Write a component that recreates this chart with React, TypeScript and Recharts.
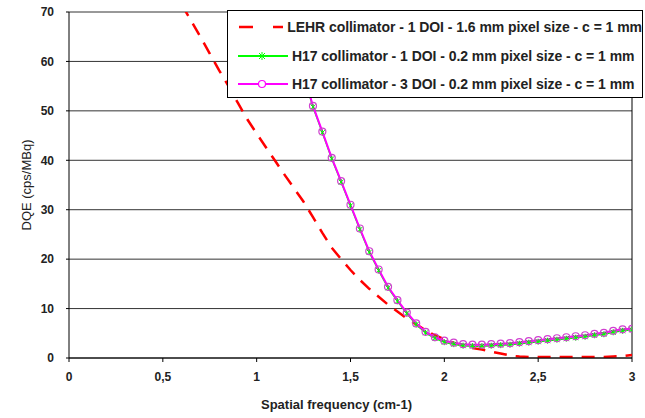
import React from 'react';
import { LineChart, Line, XAxis, YAxis, CartesianGrid, ReferenceLine } from 'recharts';

// LEHR collimator curve
const lehrFreq = [
  0.6, 0.65, 0.7, 0.75, 0.8, 0.85, 0.9, 0.95, 1.0, 1.05, 1.1, 1.15, 1.2, 1.25, 1.3, 1.35, 1.4, 1.45,
  1.5, 1.55, 1.6, 1.65, 1.7, 1.75, 1.8, 1.85, 1.9, 1.95, 2.0, 2.05, 2.1, 2.15, 2.2, 2.25, 2.3, 2.35,
  2.4, 2.45, 2.5, 2.55, 2.6, 2.65, 2.7, 2.75, 2.8, 2.85, 2.9, 2.95, 3.0,
];
const lehrDqe = [
  71.5, 68.3, 65, 61.6, 58.2, 55, 51.6, 48.3, 45.4, 42.6, 39.8, 37, 34.3, 31.6, 28.5, 25.3, 22.3, 20,
  17.8, 15.8, 14, 12.4, 10.8, 9.4, 8.0, 6.8, 5.6, 4.6, 3.8, 3.1, 2.5, 2.0, 1.7, 1.3, 0.9, 0.5,
  0.3, 0.2, 0.2, 0.2, 0.2, 0.2, 0.2, 0.2, 0.2, 0.2, 0.3, 0.4, 0.6,
];

// H17 collimator curves
const h17Freq = [
  1.1, 1.15, 1.2, 1.25, 1.3, 1.35, 1.4, 1.45, 1.5, 1.55, 1.6, 1.65, 1.7, 1.75, 1.8, 1.85, 1.9, 1.95,
  2.0, 2.05, 2.1, 2.15, 2.2, 2.25, 2.3, 2.35, 2.4, 2.45, 2.5, 2.55, 2.6, 2.65, 2.7, 2.75, 2.8, 2.85,
  2.9, 2.95, 3.0,
];
const h17OneDoi = [
  72, 68.2, 63.2, 57.2, 50.8, 45.6, 40.3, 35.6, 30.8, 26, 21.4, 17.7, 14.2, 11.5, 9.0, 6.8, 5.1, 4.0,
  3.2, 2.8, 2.5, 2.4, 2.4, 2.5, 2.6, 2.7, 2.9, 3.1, 3.3, 3.5, 3.7, 3.9, 4.1, 4.3, 4.6, 4.8,
  5.2, 5.5, 5.7,
];
const h17ThreeDoi = [
  72, 68.5, 63.5, 57.5, 51, 45.8, 40.5, 35.8, 31, 26.2, 21.6, 17.9, 14.4, 11.7, 9.2, 7.0, 5.3, 4.2,
  3.5, 3.1, 2.8, 2.7, 2.7, 2.8, 2.9, 3.0, 3.2, 3.4, 3.6, 3.8, 4.0, 4.2, 4.4, 4.6, 4.9, 5.1,
  5.5, 5.8, 5.9,
];

const xTicks = [0, 0.5, 1, 1.5, 2, 2.5, 3];
const yTicks = [0, 10, 20, 30, 40, 50, 60, 70];

const legendItems = [
  { name: 'LEHR collimator - 1 DOI - 1.6 mm pixel size - c = 1 mm', kind: 'dash', color: '#ff0000' },
  { name: 'H17 collimator - 1 DOI - 0.2 mm pixel size - c = 1 mm', kind: 'star', color: '#00ff00' },
  { name: 'H17 collimator - 3 DOI - 0.2 mm pixel size - c = 1 mm', kind: 'circle', color: '#ff00ff' },
];

const lehrData = lehrFreq.map((x, i) => ({ x, y: lehrDqe[i] }));
const oneDoiData = h17Freq.map((x, i) => ({ x, y: h17OneDoi[i] }));
const threeDoiData = h17Freq.map((x, i) => ({ x, y: h17ThreeDoi[i] }));

const font = '"Liberation Sans", Arial, sans-serif';

const StarDot = (props: any) => {
  const { cx, cy } = props;
  if (cx == null || cy == null || cy < 12) return null;
  const s = 2.5;
  return (
    <g stroke="#00ff00" strokeWidth={1}>
      <line x1={cx - s} y1={cy - s} x2={cx + s} y2={cy + s} />
      <line x1={cx - s} y1={cy + s} x2={cx + s} y2={cy - s} />
      <line x1={cx} y1={cy - s - 0.5} x2={cx} y2={cy + s + 0.5} />
    </g>
  );
};

const CircleDot = (props: any) => {
  const { cx, cy } = props;
  if (cx == null || cy == null || cy < 12) return null;
  return <circle cx={cx} cy={cy} r={3.5} fill="none" stroke="#d040d0" strokeWidth={1.2} />;
};

const LegendBox = () => (
  <div
    style={{
      position: 'absolute',
      left: 227,
      top: 10,
      width: 416,
      height: 88,
      border: '1px solid #000',
      background: '#fff',
      boxSizing: 'border-box',
      paddingTop: 2,
      fontFamily: font,
      fontSize: 14,
      fontWeight: 'bold',
      color: '#222',
    }}
  >
    {legendItems.map((it) => (
      <div key={it.name} style={{ display: 'flex', alignItems: 'center', height: 28.5 }}>
        <svg width={50} height={12} style={{ marginLeft: 10, marginRight: 4 }}>
          {it.kind === 'dash' ? (
            <line x1={1} y1={6} x2={49} y2={6} stroke={it.color} strokeWidth={2.5} strokeDasharray="14 20" />
          ) : (
            <line x1={0} y1={6} x2={50} y2={6} stroke={it.color} strokeWidth={2} />
          )}
          {it.kind === 'star' && (
            <g stroke={it.color} strokeWidth={1}>
              <line x1={21} y1={3} x2={27} y2={9} />
              <line x1={21} y1={9} x2={27} y2={3} />
              <line x1={24} y1={2} x2={24} y2={10} />
            </g>
          )}
          {it.kind === 'circle' && <circle cx={24} cy={6} r={3.5} fill="#fff" stroke={it.color} strokeWidth={1.2} />}
        </svg>
        <span style={{ letterSpacing: -0.05, whiteSpace: 'nowrap' }}>{it.name}</span>
      </div>
    ))}
  </div>
);

export default function App() {
  return (
    <div style={{ position: 'absolute', left: 0, top: 0, width: 645, height: 418, background: '#fff' }}>
      <LineChart width={645} height={418} margin={{ top: 12, right: 13, bottom: 0, left: 0 }}>
        <CartesianGrid vertical={false} stroke="#333" strokeWidth={1} />
        <XAxis
          type="number"
          dataKey="x"
          domain={[0, 3]}
          ticks={xTicks}
          allowDataOverflow
          height={60}
          tickFormatter={(v: number) => String(v).replace('.', ',')}
          stroke="#000"
          tickSize={4}
          tickMargin={10}
          tick={{ fill: '#222', fontSize: 12, fontWeight: 'bold', fontFamily: font }}
          label={{
            value: 'Spatial frequency (cm-1)',
            position: 'insideBottom',
            offset: 9,
            dx: -14,
            style: { fill: '#222', fontSize: 13, fontWeight: 'bold', fontFamily: font },
          }}
        />
        <YAxis
          type="number"
          dataKey="y"
          domain={[0, 70]}
          ticks={yTicks}
          allowDataOverflow
          width={69}
          stroke="#000"
          tickSize={3}
          tickMargin={12}
          tick={{ fill: '#222', fontSize: 12, fontWeight: 'bold', fontFamily: font }}
          label={{
            value: 'DQE (cps/MBq)',
            angle: -90,
            position: 'insideLeft',
            offset: 26,
            style: { textAnchor: 'middle', fill: '#222', fontSize: 13, fontFamily: font },
          }}
        />
        <ReferenceLine x={3} stroke="#000" strokeWidth={1} />
        <Line
          data={lehrData}
          dataKey="y"
          stroke="#ff0000"
          strokeWidth={2.5}
          strokeDasharray="13 9"
          dot={false}
          isAnimationActive={false}
          type="linear"
        />
        <Line
          data={oneDoiData}
          dataKey="y"
          stroke="#00ff00"
          strokeWidth={1.5}
          dot={<StarDot />}
          isAnimationActive={false}
          type="linear"
        />
        <Line
          data={threeDoiData}
          dataKey="y"
          stroke="#ff00ff"
          strokeWidth={2}
          dot={<CircleDot />}
          isAnimationActive={false}
          type="linear"
        />
      </LineChart>
      <LegendBox />
    </div>
  );
}
